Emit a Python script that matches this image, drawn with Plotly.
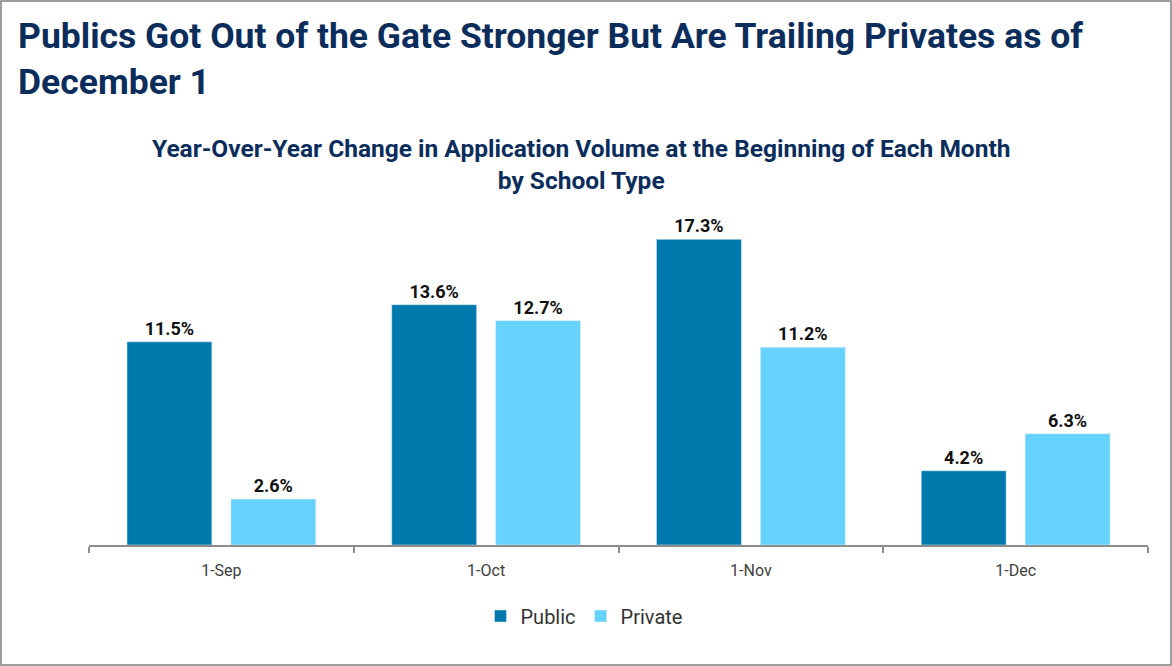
import plotly.graph_objects as go

# data
months = ['1-Sep', '1-Oct', '1-Nov', '1-Dec']
public_change = [11.5, 13.6, 17.3, 4.2]
private_change = [2.6, 12.7, 11.2, 6.3]

chart_title = "Publics Got Out of the Gate Stronger But Are Trailing Privates as of<br>December 1"
sub_title = "Year-Over-Year Change in Application Volume at the Beginning of Each Month<br>by School Type"

navy = '#0b2d5b'
font_name = 'Roboto'

# plot area in pixels (used to place things outside it)
W, H = 1172, 666
left, right, top, bottom = 89, 1148, 227, 545
pw, ph = right - left, bottom - top


def px_x(x):
    return (x - left) / pw


def px_y(y):
    return (bottom - y) / ph


fig = go.Figure()
fig.add_trace(go.Bar(x=months, y=public_change, name='Public',
                     marker_color='#0079ac',
                     texttemplate='%{y:.1f}%', textposition='outside',
                     cliponaxis=False))
fig.add_trace(go.Bar(x=months, y=private_change, name='Private',
                     marker_color='#66d3ff',
                     texttemplate='%{y:.1f}%', textposition='outside',
                     cliponaxis=False))
fig.update_traces(textfont=dict(family=font_name, size=18, color='#111111', weight='bold'))

fig.update_layout(
    width=W, height=H,
    margin=dict(l=left, r=W - right, t=top, b=H - bottom),
    paper_bgcolor='white', plot_bgcolor='white',
    font=dict(family=font_name),
    barmode='group', bargap=0.215, bargroupgap=0.183,
    showlegend=True,
    legend=dict(orientation='h', x=px_x(584), xanchor='center',
                y=px_y(616), yanchor='middle',
                font=dict(family=font_name, size=20, color='#333333'),
                traceorder='normal'),
)

# main title
fig.add_annotation(text=chart_title, xref='paper', yref='paper',
                   x=px_x(16), y=px_y(13), xanchor='left', yanchor='top',
                   showarrow=False, align='left',
                   font=dict(family=font_name, size=35.5, color=navy, weight='bold'))

# subtitle
fig.add_annotation(text=sub_title, xref='paper', yref='paper',
                   x=px_x(581), y=px_y(132), xanchor='center', yanchor='top',
                   showarrow=False, align='center',
                   font=dict(family=font_name, size=24.5, color=navy, weight='bold'))

# outer border
fig.add_shape(type='rect', xref='paper', yref='paper',
              x0=px_x(1), x1=px_x(W - 1), y0=px_y(H - 1), y1=px_y(1),
              line=dict(color='#7f7f7f', width=1.5))

fig.update_xaxes(showline=True, linecolor='#8c8c8c', linewidth=1.5,
                 ticks='outside', tickson='boundaries', ticklen=6,
                 tickcolor='#8c8c8c', tickwidth=1.5, ticklabelstandoff=10,
                 tickfont=dict(family=font_name, size=16, color='#404040'))
fig.update_yaxes(range=[0, 18], visible=False, showgrid=False, zeroline=False)

fig.write_html("out.html", config={'displayModeBar': False},
               post_script="document.body.style.margin='0';")
